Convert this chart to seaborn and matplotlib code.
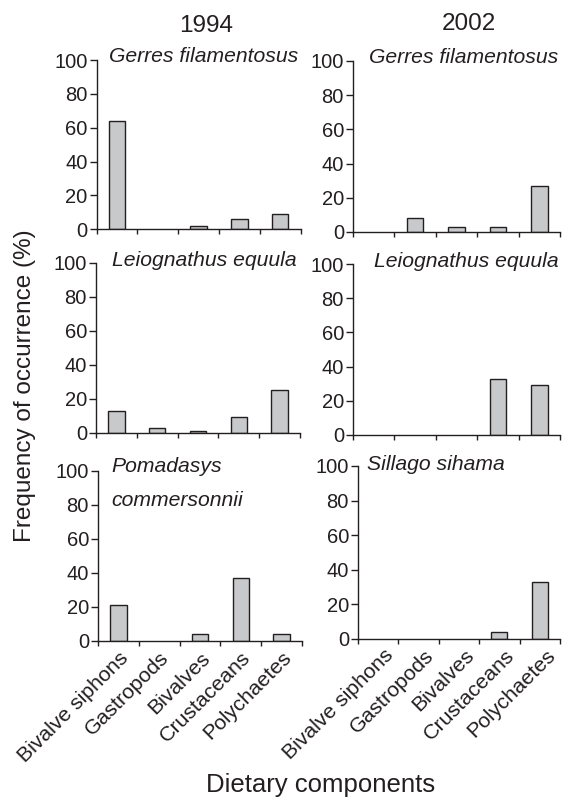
import matplotlib
matplotlib.use("Agg")
import matplotlib.pyplot as plt
import seaborn as sns
from matplotlib.ticker import FixedLocator

# Dietary components and frequency of occurrence (%) per species and year
categories = ["Bivalve siphons", "Gastropods", "Bivalves", "Crustaceans", "Polychaetes"]
gerres_1994 = [64, 0, 2, 6, 9]
gerres_2002 = [0, 8, 3, 3, 27]
leiognathus_1994 = [13, 3, 1, 9, 25]
leiognathus_2002 = [0, 0, 0, 33, 29]
pomadasys_1994 = [21, 0, 4, 37, 4]
sillago_2002 = [0, 0, 0, 4, 33]
years = ["1994", "2002"]
y_ticks = [0, 20, 40, 60, 80, 100]

sns.set_theme(style="ticks")
INK = "#231f20"
plt.rcParams["font.family"] = ["Liberation Sans", "DejaVu Sans"]
plt.rcParams.update({
    "text.color": INK, "axes.edgecolor": INK, "axes.labelcolor": INK,
    "xtick.color": INK, "ytick.color": INK, "axes.linewidth": 1.0,
})

W, H = 565, 799
fig = plt.figure(figsize=(W / 100, H / 100), dpi=100)


def rect(x0, x1, ytop, ybot):
    return [x0 / W, 1 - ybot / H, (x1 - x0) / W, (ybot - ytop) / H]


# (values, species lines, axes rect, text anchor x, ha, baseline y, bottom row, label shift)
panels = [
    (gerres_1994, ["Gerres filamentosus"], rect(96.5, 300.7, 60, 229.3), 0.987, "right", [0.988], False, 0.0),
    (gerres_2002, ["Gerres filamentosus"], rect(353, 560, 61, 232), 0.99, "right", [0.987], False, 0.0),
    (leiognathus_1994, ["Leiognathus equula"], rect(96, 300, 262.7, 432.7), 0.985, "right", [0.98], False, 0.0),
    (leiognathus_2002, ["Leiognathus equula"], rect(353, 560, 264, 435), 0.995, "right", [0.984], False, 0.0),
    (pomadasys_1994, ["Pomadasys", "commersonnii"], rect(98, 302, 470.7, 641), 0.064, "left", [0.99, 0.794], True, 0.17),
    (sillago_2002, ["Sillago sihama"], rect(358, 560, 466, 638.7), 0.045, "left", [0.977], True, 0.3),
]

for values, names, r, tx, ha, tys, bottom, shift in panels:
    ax = fig.add_axes(r)
    sns.barplot(x=categories, y=values, order=categories, color="#c8c9cb",
                saturation=1, edgecolor=INK, linewidth=1.0, width=0.4, ax=ax)
    for p in ax.patches:
        if p.get_height() == 0:
            p.set_visible(False)
    ax.set_ylim(0, 100)
    ax.set_xlim(-0.5, 4.5)
    ax.set_yticks(y_ticks)
    ax.tick_params(axis="y", labelsize=14.5, length=5, width=1.0, pad=1.5, direction="out")
    ax.xaxis.set_minor_locator(FixedLocator([i - 0.5 for i in range(len(categories) + 1)]))
    ax.tick_params(axis="x", which="minor", length=3.5, width=1.0, direction="out")
    ax.tick_params(axis="x", which="major", length=0, pad=10)
    ax.set_xticks([i + shift for i in range(len(categories))])
    if bottom:
        ax.set_xticklabels(categories, rotation=45, ha="right", va="center",
                           rotation_mode="anchor", fontsize=15.3)
    else:
        ax.set_xticklabels([""] * len(categories))
    ax.set_xlim(-0.5, 4.5)
    ax.set_xlabel("")
    ax.set_ylabel("")
    sns.despine(ax=ax)
    for name, ty in zip(names, tys):
        ax.text(tx, ty, name, transform=ax.transAxes, ha=ha, va="baseline",
                fontsize=15.2, style="italic", color=INK)

fig.text(206 / W, 1 - 32 / H, years[0], ha="center", va="baseline", fontsize=17.5)
fig.text(469 / W, 1 - 30 / H, years[1], ha="center", va="baseline", fontsize=17.5)
fig.text(25 / W, 1 - 386 / H, "Frequency of occurrence (%)", rotation=90,
         ha="center", va="center", fontsize=17.5)
fig.text(321 / W, 1 - 792 / H, "Dietary components", ha="center", va="baseline", fontsize=18.5)

fig.savefig("out.png", dpi=100)
